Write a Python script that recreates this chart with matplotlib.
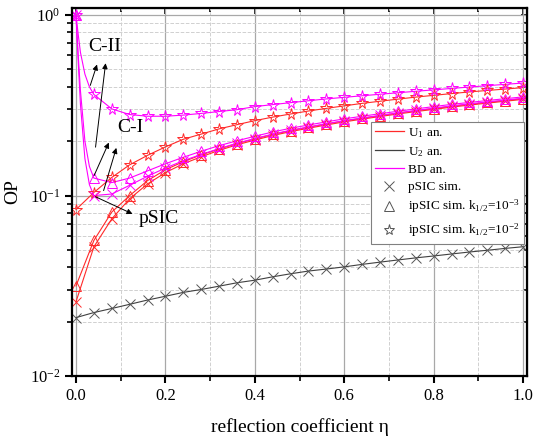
import numpy as np
import matplotlib
matplotlib.use("Agg")
import matplotlib.pyplot as plt
from matplotlib.lines import Line2D
from matplotlib.ticker import LogLocator, MultipleLocator

plt.rcParams['font.family'] = ['Liberation Serif', 'DejaVu Serif']
plt.rcParams['mathtext.fontset'] = 'stix'

# marker positions (reflection coefficient)
eta = np.linspace(0, 1, 26)

# U2 analytical / pSIC sim (black)
u2_psic = [0.0211, 0.0225, 0.0237, 0.0250, 0.0264, 0.0277, 0.0291, 0.0302, 0.0315,
           0.0329, 0.0340, 0.0355, 0.0369, 0.0382, 0.0392, 0.0403, 0.0416, 0.0428,
           0.0440, 0.0452, 0.0463, 0.0475, 0.0487, 0.0498, 0.0510, 0.0521]

# U1 analytical (red)
u1_psic = [0.0258, 0.052, 0.0743, 0.096, 0.116, 0.134, 0.150, 0.164, 0.178, 0.191,
           0.203, 0.215, 0.226, 0.236, 0.246, 0.256, 0.265, 0.274, 0.283, 0.292,
           0.300, 0.309, 0.317, 0.325, 0.333, 0.341]
u1_ipsic3 = [0.0316, 0.0564, 0.081, 0.100, 0.121, 0.139, 0.154, 0.168, 0.181, 0.194,
             0.206, 0.218, 0.229, 0.239, 0.249, 0.259, 0.268, 0.277, 0.286, 0.295,
             0.303, 0.312, 0.320, 0.328, 0.336, 0.344]
u1_ipsic2 = [0.0836, 0.104, 0.126, 0.148, 0.167, 0.186, 0.205, 0.219, 0.234, 0.247,
             0.260, 0.272, 0.283, 0.294, 0.304, 0.314, 0.324, 0.333, 0.342, 0.351,
             0.359, 0.367, 0.375, 0.382, 0.389, 0.396]

# BD analytical (magenta)
bd_psic = [1.0, 0.100, 0.102, 0.114, 0.128, 0.142, 0.156, 0.169, 0.182, 0.195,
           0.207, 0.219, 0.230, 0.240, 0.250, 0.260, 0.269, 0.278, 0.287, 0.296,
           0.305, 0.314, 0.322, 0.330, 0.338, 0.346]
bd_ipsic3 = [1.0, 0.125, 0.118, 0.125, 0.137, 0.150, 0.163, 0.176, 0.189, 0.201,
             0.213, 0.225, 0.236, 0.246, 0.256, 0.266, 0.275, 0.284, 0.293, 0.302,
             0.311, 0.320, 0.328, 0.336, 0.344, 0.352]
bd_ipsic2 = [1.0, 0.363, 0.302, 0.281, 0.275, 0.275, 0.279, 0.285, 0.292, 0.299,
             0.311, 0.319, 0.327, 0.335, 0.343, 0.350, 0.357, 0.364, 0.371, 0.378,
             0.385, 0.392, 0.399, 0.406, 0.413, 0.420]

# extra analytical points near eta = 0 for the steep BD drop
eta_near = [0.0, 0.005, 0.01, 0.02, 0.03]
bd_psic_near = [1.0, 0.55, 0.32, 0.16, 0.115]
bd_ipsic3_near = [1.0, 0.60, 0.38, 0.20, 0.145]
bd_ipsic2_near = [1.0, 0.78, 0.62, 0.47, 0.40]

RED = '#ff2a2a'
MAG = '#ff00ff'
BLK = '#404040'

fig = plt.figure(figsize=(5.33, 4.41), dpi=100)
ax = fig.add_axes([0.135, 0.147, 0.854, 0.835])

# analytical lines
ax.plot(eta, u2_psic, color=BLK, lw=0.8)
for vals in (u1_psic, u1_ipsic3, u1_ipsic2):
    ax.plot(eta, vals, color=RED, lw=0.8)
for near, vals in ((bd_psic_near, bd_psic), (bd_ipsic3_near, bd_ipsic3),
                   (bd_ipsic2_near, bd_ipsic2)):
    ax.plot(list(eta_near) + list(eta[1:]), near + vals[1:], color=MAG, lw=0.8)

# simulation markers
mk = dict(ls='none', mfc='none', mew=0.7)
ax.plot(eta, u2_psic, marker='x', color='#555555', ms=7, **mk)
ax.plot(eta, u1_psic, marker='x', color=RED, ms=7, **mk)
ax.plot(eta, u1_ipsic3, marker='^', color=RED, ms=7, **mk)
ax.plot(eta, u1_ipsic2, marker='*', color=RED, ms=8.5, **mk)
ax.plot(eta, bd_psic, marker='x', color=MAG, ms=7, **mk)
ax.plot(eta, bd_ipsic3, marker='^', color=MAG, ms=7, **mk)
ax.plot(eta, bd_ipsic2, marker='*', color=MAG, ms=8.5, **mk)

ax.set_yscale('log')
ax.set_xlim(-0.009, 1.009)
ax.set_ylim(0.01, 1.094)
ax.xaxis.set_major_locator(MultipleLocator(0.2))
ax.xaxis.set_minor_locator(MultipleLocator(0.1))
ax.yaxis.set_minor_locator(LogLocator(base=10, subs=np.arange(2, 10)))
ax.set_xticks([0, 0.2, 0.4, 0.6, 0.8, 1.0])
ax.set_xticklabels(['0.0', '0.2', '0.4', '0.6', '0.8', '1.0'])

ax.grid(True, which='major', color='#a8a8a8', lw=0.9, ls='-')
ax.grid(True, which='minor', color='#d0d0d0', lw=0.7, ls='--')
ax.set_axisbelow(True)

ax.tick_params(which='major', direction='out', length=5, width=1.5, labelsize=12)
ax.tick_params(which='minor', direction='out', length=3.5, width=1.2)
for s in ax.spines.values():
    s.set_linewidth(1.6)

# mirrored inner ticks on top and right
top = ax.secondary_xaxis('top')
top.xaxis.set_major_locator(MultipleLocator(0.2))
top.xaxis.set_minor_locator(MultipleLocator(0.1))
top.tick_params(which='both', direction='in', labeltop=False, width=1.2)
top.tick_params(which='major', length=4)
top.tick_params(which='minor', length=3)
right = ax.secondary_yaxis('right')
right.yaxis.set_minor_locator(LogLocator(base=10, subs=np.arange(2, 10)))
right.tick_params(which='both', direction='in', labelright=False, width=1.2)
right.tick_params(which='major', length=4)
right.tick_params(which='minor', length=3)

ax.set_xlabel('reflection coefficient η', fontsize=14, labelpad=10)
ax.set_ylabel('OP', fontsize=14, labelpad=6)

# annotations: arrow points from curve to label
arr = dict(arrowstyle='-|>', color='black', lw=0.7, mutation_scale=8)
ax.text(0.065, 0.665, 'C-II', fontsize=14, ha='center', va='center')
ax.annotate('', xy=(0.049, 0.55), xytext=(0.03, 0.394), arrowprops=arr)
ax.annotate('', xy=(0.067, 0.56), xytext=(0.043, 0.179), arrowprops=arr)
ax.text(0.121, 0.237, 'C-I', fontsize=14, ha='center', va='center')
ax.annotate('', xy=(0.076, 0.203), xytext=(0.038, 0.125), arrowprops=arr)
ax.annotate('', xy=(0.092, 0.19), xytext=(0.06, 0.103), arrowprops=arr)
ax.text(0.139, 0.075, 'pSIC', fontsize=14, ha='left', va='center')
ax.annotate('', xy=(0.132, 0.078), xytext=(0.038, 0.1), arrowprops=arr)

handles = [
    Line2D([], [], color=RED, lw=0.9),
    Line2D([], [], color=BLK, lw=0.9),
    Line2D([], [], color=MAG, lw=0.9),
    Line2D([], [], ls='none', marker='x', color='#555555', ms=7, mew=0.7),
    Line2D([], [], ls='none', marker='^', color='#555555', mfc='none', ms=7, mew=0.7),
    Line2D([], [], ls='none', marker='*', color='#555555', mfc='none', ms=8, mew=0.7),
]
labels = [r'U$_\mathregular{1}$ an.', r'U$_\mathregular{2}$ an.', 'BD an.', 'pSIC sim.',
          r'ipSIC sim. k$_\mathregular{1/2}$=10$^\mathregular{-3}$',
          r'ipSIC sim. k$_\mathregular{1/2}$=10$^\mathregular{-2}$']
leg = ax.legend(handles, labels, loc='upper right', bbox_to_anchor=(0.993, 0.69),
                fontsize=9.5, fancybox=False, edgecolor='#808080', framealpha=1,
                borderpad=0.3, labelspacing=0.38, handlelength=2.2, handletextpad=0.35,
                borderaxespad=0)
leg.get_frame().set_linewidth(0.8)

fig.savefig('out.png', dpi=100)
